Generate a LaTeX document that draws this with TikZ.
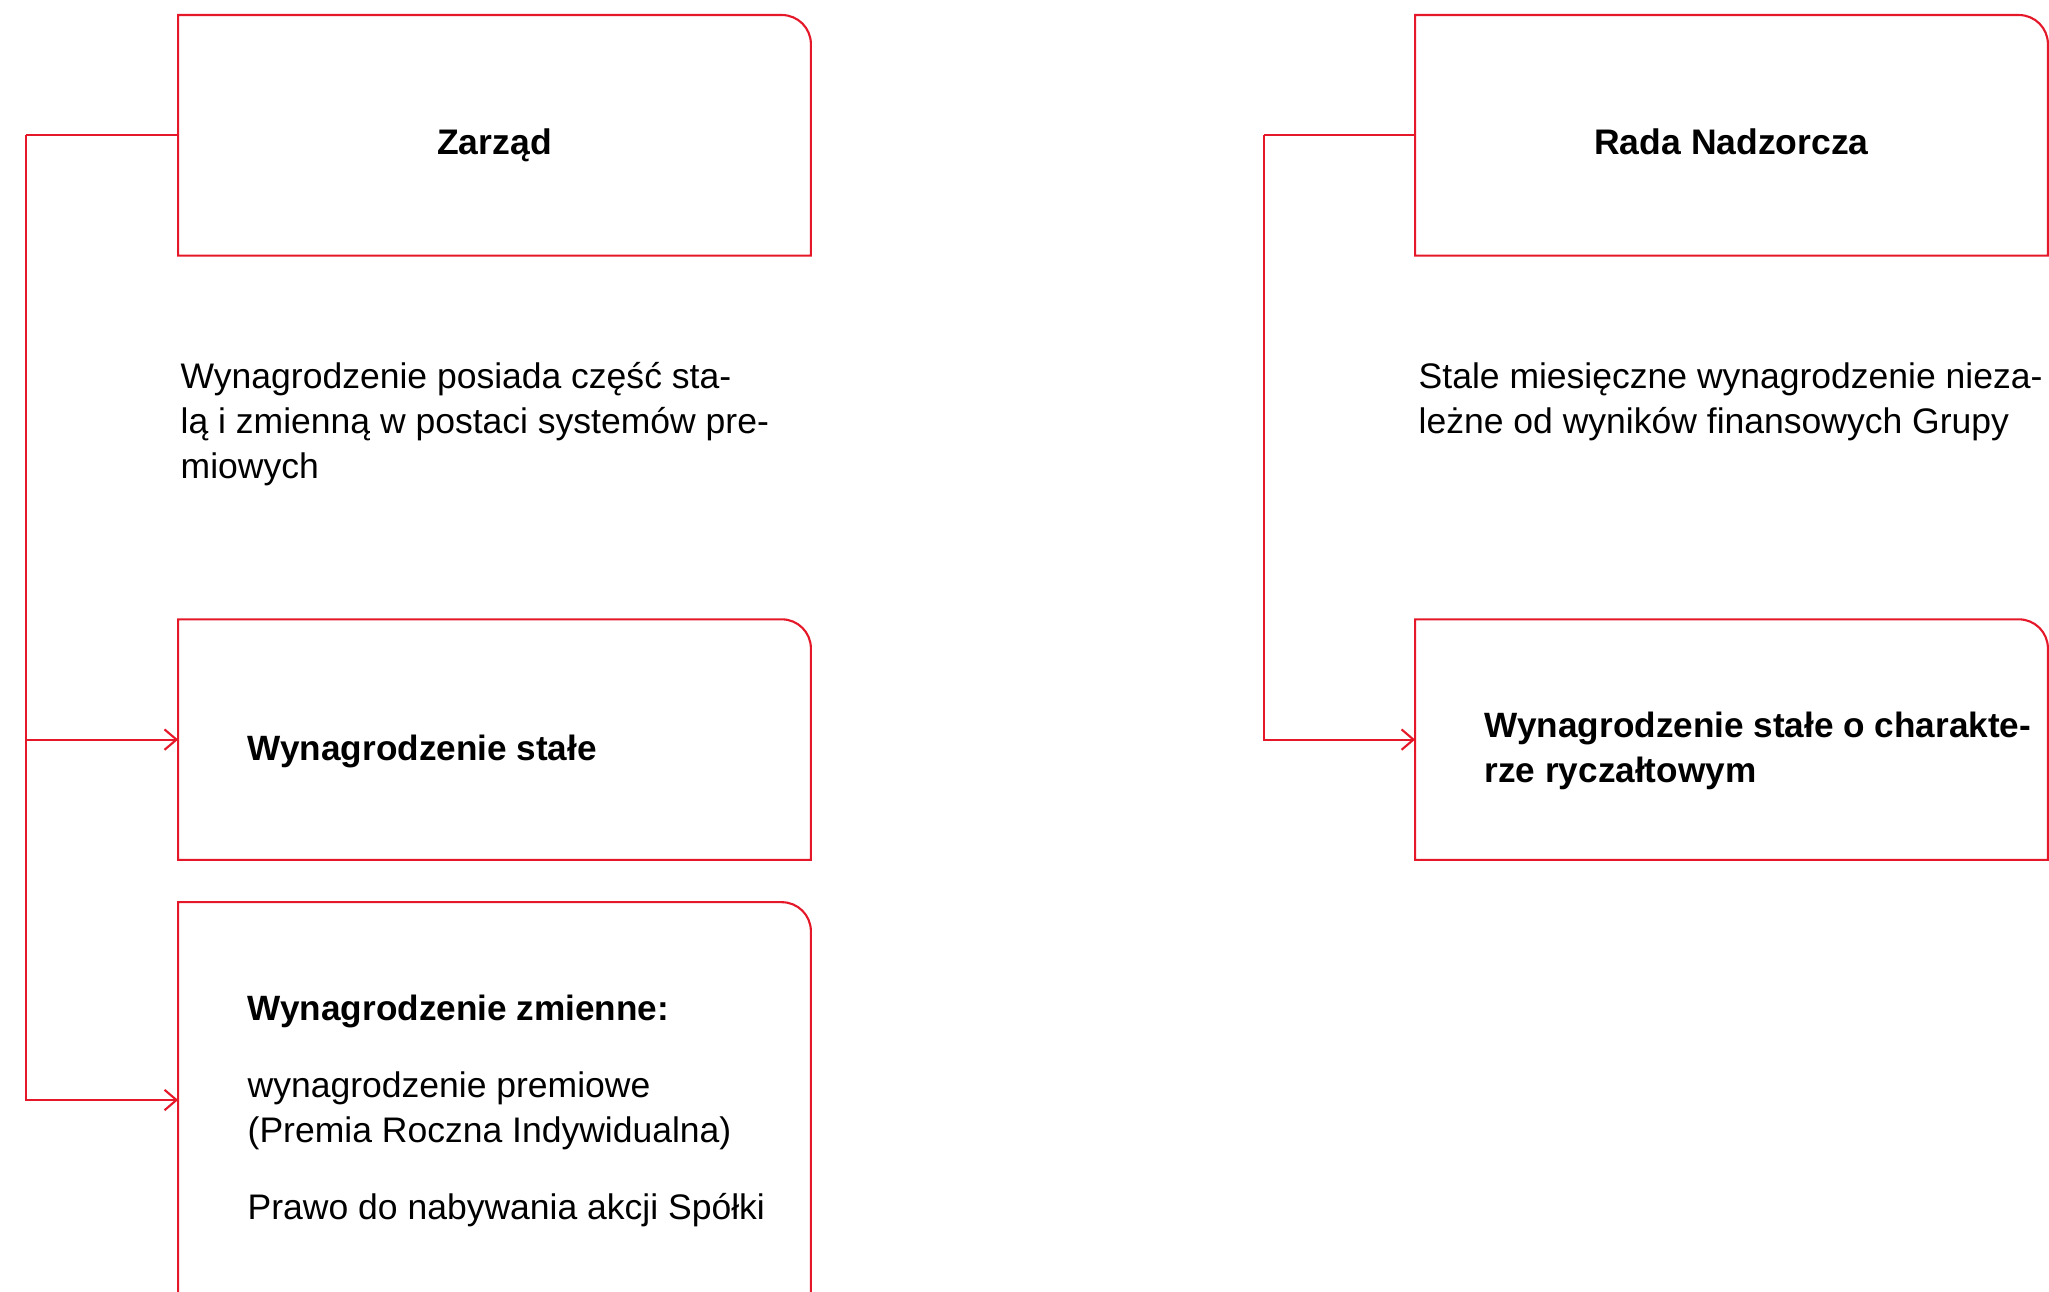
\documentclass[tikz,border=0pt]{standalone}
\usepackage{fontspec}
\setmainfont{Liberation Sans}
\usepackage{xcolor}
\definecolor{Col1}{RGB}{228,24,40}
\usepackage{tikz}
\usetikzlibrary{arrows.meta}
\tikzstyle{Box}=[rectangle,minimum width=6.31cm,minimum height=2.39cm,
inner sep=0pt,text height=10.8pt,text depth=0pt,
font=\fontsize{10.1}{12.8}\selectfont\bfseries]
\tikzstyle{Edge}=[draw=Col1,line width=.6pt]
\tikzstyle{Arrow}=[Edge,-{Straight Barb[length=3.4pt,width=5.8pt]}]
\tikzstyle{Body}=[anchor=west,align=left,inner sep=0pt,
font=\fontsize{10.1}{12.8}\selectfont]
\tikzstyle{Head}=[Body,font=\fontsize{10}{12.8}\selectfont\bfseries]

\begin{document}
\begin{tikzpicture}[x=.01cm,y=-.01cm]
        \useasboundingbox(0,0)rectangle(2049,1291);
        % Zarzad
        \node[Box](Zarzad)at(494.5,135.3){Zarząd};
        \node[Box](Stale)at(494.5,739.6){};
        \node[Box,minimum height=3.94cm](Zmienne)at(494.5,1100){};
        \node[Body](OpisZ)at(180,424){Wynagrodzenie posiada część sta-\\
            lą i zmienną w postaci systemów pre-\\miowych};
        \node[Head](TStale)at(247,751){Wynagrodzenie stałe};
        \node[Body](TZmienne)at(247,1111){{\fontsize{10}{12.8}\selectfont
            \bfseries Wynagrodzenie zmienne:}\\[9pt]
            wynagrodzenie premiowe\\(Premia Roczna Indywidualna)\\[9pt]
            Prawo do nabywania akcji Spółki};
        % Rada Nadzorcza
        \node[Box](Rada)at(1731.5,135.3){Rada Nadzorcza};
        \node[Box](Ryczalt)at(1731.5,739.6){};
        \node[Body](OpisR)at(1418,402){Stale miesięczne wynagrodzenie nieza-\\
            leżne od wyników finansowych Grupy};
        \node[Head](TRyczalt)at(1484,751){Wynagrodzenie stałe o charakte-\\
            rze ryczałtowym};
        % ramki
        \foreach \b in {Zarzad,Stale,Rada,Ryczalt}
            \draw[Edge](\b.south west)--(\b.north west)
                --([xshift=-.29cm]\b.north east)
                arc[start angle=90,end angle=0,radius=.29cm]
                --(\b.south east)--cycle;
        \draw[Edge](Zmienne.south west)--(Zmienne.north west)
            --([xshift=-.29cm]Zmienne.north east)
            arc[start angle=90,end angle=0,radius=.29cm]
            --(Zmienne.south east);
        % polaczenia
        \coordinate(lz)at(26,135.3);
        \coordinate(lr)at(1263.7,135.3);
        \draw[Edge](Zarzad.west)--(lz);
        \draw[Arrow](lz)|-(Stale.west);
        \draw[Arrow](lz)|-(Zmienne.west);
        \draw[Edge](Rada.west)--(lr);
        \draw[Arrow](lr)|-(Ryczalt.west);
    \end{tikzpicture}
\end{document}
